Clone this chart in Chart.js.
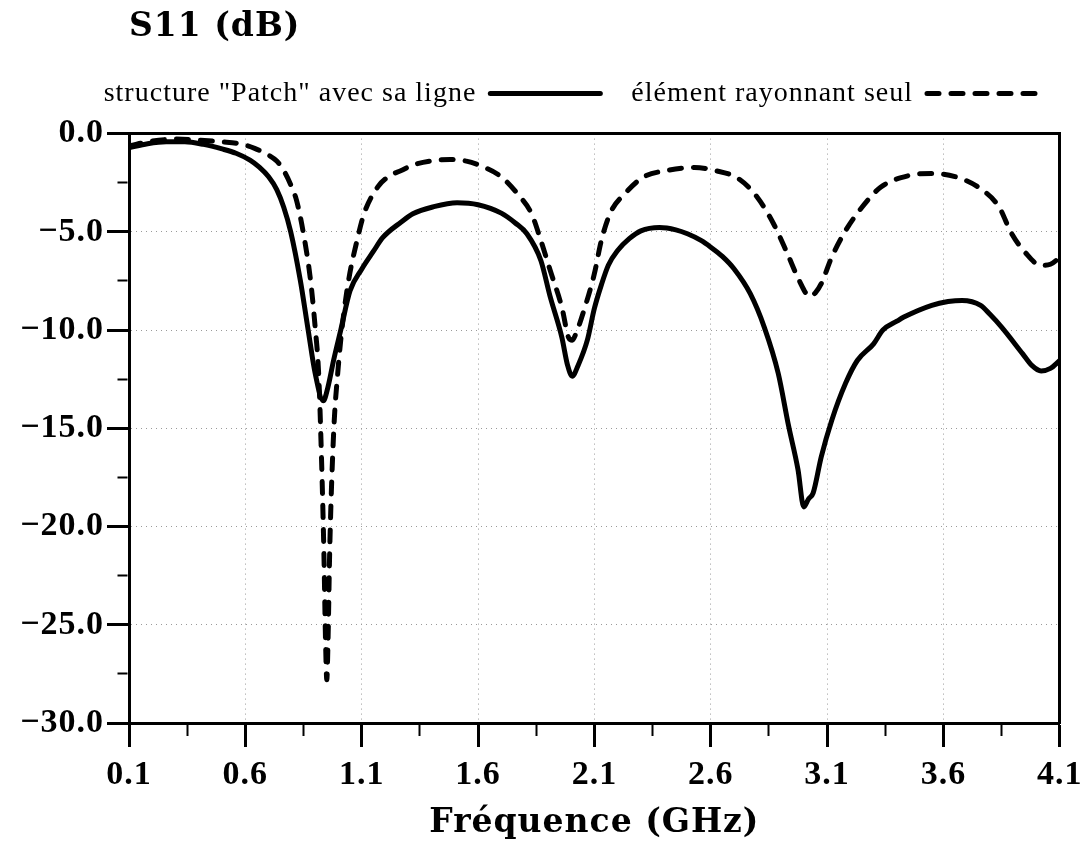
<!DOCTYPE html>
<html>
<head>
<meta charset="utf-8">
<title>S11 (dB)</title>
<script src="https://cdn.jsdelivr.net/npm/chart.js@4.4.1/dist/chart.umd.min.js"></script>
<style>
  body { margin: 0; background: #fff; }
  canvas { display: block; }
</style>
</head>
<body>
<canvas id="s11_chart" width="1084" height="843"></canvas>
<script>
// patch with its feed line
const patchFreq = [0.10, 0.18, 0.26, 0.34, 0.42, 0.50, 0.56, 0.62, 0.66, 0.70,
  0.735, 0.765, 0.795, 0.836, 0.87, 0.90, 0.935, 0.955, 0.98, 1.01, 1.05,
  1.10, 1.15, 1.19, 1.27, 1.32, 1.41, 1.51, 1.60, 1.70, 1.76,
  1.81, 1.87, 1.91, 1.96, 1.985, 2.005, 2.03, 2.07, 2.10, 2.13,
  2.16, 2.20, 2.25, 2.30, 2.38, 2.45, 2.50, 2.56, 2.60, 2.65,
  2.70, 2.77, 2.83, 2.89, 2.935, 2.975, 3.00, 3.02, 3.04, 3.075,
  3.12, 3.18, 3.23, 3.30, 3.34, 3.40, 3.43, 3.55, 3.62, 3.68,
  3.76, 3.80, 3.85, 3.94, 3.98, 4.02, 4.06, 4.10];
const patchDb = [-0.72, -0.52, -0.42, -0.42, -0.55, -0.78, -1.0, -1.35, -1.71, -2.2,
  -2.85, -3.75, -5.0, -7.45, -10.0, -12.2, -13.6, -12.9, -11.5, -10.0, -8.0,
  -6.9, -6.0, -5.3, -4.5, -4.08, -3.72, -3.52, -3.62, -4.05, -4.55,
  -5.1, -6.46, -8.3, -10.36, -11.8, -12.35, -11.8, -10.5, -8.9, -7.7,
  -6.7, -5.95, -5.35, -4.95, -4.78, -4.9, -5.1, -5.45, -5.78, -6.25,
  -6.88, -8.15, -9.85, -12.2, -14.9, -17.1, -19.0, -18.6, -18.3, -16.45,
  -14.6, -12.7, -11.55, -10.7, -10.0, -9.55, -9.34, -8.74, -8.55, -8.49,
  -8.74, -9.2, -9.85, -11.2, -11.8, -12.08, -11.95, -11.55];

// radiating element alone
const elemFreq = [0.10, 0.20, 0.30, 0.40, 0.50, 0.58, 0.64, 0.69, 0.735, 0.765,
  0.795, 0.82, 0.85, 0.88, 0.90, 0.915, 0.925, 0.937, 0.945, 0.950,
  0.955, 0.963, 0.98, 0.997, 1.016, 1.044, 1.08, 1.11, 1.17, 1.22,
  1.27, 1.32, 1.41, 1.48, 1.55, 1.61, 1.70, 1.77, 1.83, 1.87,
  1.91, 1.96, 1.99, 2.005, 2.02, 2.055, 2.10, 2.13, 2.17, 2.23,
  2.31, 2.41, 2.53, 2.62, 2.72, 2.80, 2.87, 2.93, 2.98, 3.025,
  3.05, 3.075, 3.12, 3.18, 3.25, 3.33, 3.45, 3.55, 3.65, 3.75,
  3.84, 3.89, 3.95, 4.02, 4.06, 4.10];
const elemDb = [-0.62, -0.38, -0.28, -0.33, -0.42, -0.53, -0.75, -1.03, -1.4, -1.88,
  -2.6, -3.4, -5.1, -7.45, -9.85, -12.2, -15.6, -21.0, -26.0, -27.8,
  -26.0, -21.0, -15.1, -12.2, -9.85, -7.45, -5.44, -4.08, -2.7, -2.15,
  -1.88, -1.6, -1.37, -1.32, -1.4, -1.63, -2.2, -3.07, -4.08, -5.44,
  -6.96, -8.83, -10.4, -10.52, -10.2, -9.0, -7.13, -5.44, -4.0, -3.07,
  -2.22, -1.88, -1.73, -1.88, -2.3, -3.24, -4.59, -6.12, -7.47, -8.28,
  -8.1, -7.64, -6.29, -4.93, -3.75, -2.73, -2.14, -2.03, -2.19, -2.73,
  -3.75, -5.02, -6.03, -6.71, -6.65, -6.3];

// axis ticks (labelled ones + the short ones in between)
const freqTicks = [0.1, 0.35, 0.6, 0.85, 1.1, 1.35, 1.6, 1.85, 2.1, 2.35, 2.6, 2.85, 3.1, 3.35, 3.6, 3.85, 4.1];
const freqMajor = [0.1, 0.6, 1.1, 1.6, 2.1, 2.6, 3.1, 3.6, 4.1];
const dbTicks = [0, -2.5, -5, -7.5, -10, -12.5, -15, -17.5, -20, -22.5, -25, -27.5, -30];
const dbMajor = [0, -5, -10, -15, -20, -25, -30];

const isMajor = (list, v) => list.some(m => Math.abs(m - v) < 1e-6);
const dbLabel = v => (v < 0 ? '\u2212' : '') + Math.abs(v).toFixed(1);

Chart.defaults.font.family = "'Liberation Serif', 'Times New Roman', serif";
Chart.defaults.color = '#000';

const ctx = document.getElementById('s11_chart');

const data = {
    datasets: [
    {
        label: 'structure "Patch" avec sa ligne',
        data: patchFreq.map((f, i) => ({x: f, y: patchDb[i]})),
        borderColor: '#000',
        backgroundColor: '#000',
        borderWidth: 5,
        borderCapStyle: 'round',
        borderJoinStyle: 'round',
        pointRadius: 0,
        cubicInterpolationMode: 'monotone'
    },
    {
        label: 'élément rayonnant seul',
        data: elemFreq.map((f, i) => ({x: f, y: elemDb[i]})),
        borderColor: '#000',
        backgroundColor: '#000',
        borderWidth: 5,
        borderDash: [12, 12],
        borderCapStyle: 'round',
        borderJoinStyle: 'round',
        pointRadius: 0,
        cubicInterpolationMode: 'monotone'
    }]
};

const gridColor = list => c => (c.tick && isMajor(list, c.tick.value)) ? '#9a9a9a' : 'rgba(0,0,0,0)';
const tickWidth = list => c => (c.tick && isMajor(list, c.tick.value)) ? 3 : 2;

// legend samples keep the dash of their line
const defaultLabels = Chart.defaults.plugins.legend.labels.generateLabels;
const legendLabels = chart => defaultLabels(chart).map(item => {
    const ds = chart.data.datasets[item.datasetIndex];
    item.lineDash = ds.borderDash || [];
    item.lineCap = 'round';
    item.lineWidth = ds.borderWidth;
    return item;
});

// the serif labels are set a little wider
const spacing = {
    id: 'spacing',
    afterInit(chart) { chart.ctx.letterSpacing = '1px'; }
};

const config = {
    type: 'line',
    data: data,
    plugins: [spacing],
    options: {
        responsive: false,
        animation: false,
        events: [],
        layout: { padding: { right: 16 } },
        plugins: {
            title: {
                display: true,
                text: 'S11 (dB)',
                align: 'start',
                fullSize: false,
                font: { family: "'DejaVu Serif', serif", size: 33, weight: 'bold' },
                padding: { top: 8, bottom: 1 }
            },
            legend: {
                rtl: true,
                reverse: true,
                align: 'start',
                labels: {
                    usePointStyle: true,
                    pointStyle: 'line',
                    pointStyleWidth: 110,
                    padding: 31,
                    font: { size: 28 },
                    generateLabels: legendLabels
                }
            },
            tooltip: { enabled: false }
        },
        scales: {
            x: {
                type: 'linear',
                position: 'bottom',
                min: 0.1,
                max: 4.1,
                afterBuildTicks: s => { s.ticks = freqTicks.map(v => ({value: v})); },
                ticks: {
                    autoSkip: false,
                    maxRotation: 0,
                    padding: 1.5,
                    font: { size: 34, weight: 'bold', lineHeight: '54px' },
                    callback: v => isMajor(freqMajor, v) ? v.toFixed(1) : ''
                },
                grid: {
                    color: gridColor(freqMajor),
                    lineWidth: 1,
                    tickLength: 24,
                    tickWidth: tickWidth(freqMajor),
                    tickColor: '#000',
                    tickBorderDash: c => (c.tick && isMajor(freqMajor, c.tick.value)) ? [] : [11, 40]
                },
                border: { color: '#000', width: 3, dash: [1, 4] },
                title: {
                    display: true,
                    text: 'Fréquence (GHz)',
                    font: { family: "'DejaVu Serif', serif", size: 33, weight: 'bold', lineHeight: 1 },
                    padding: { top: 3, bottom: 3 }
                }
            },
            y: {
                type: 'linear',
                position: 'left',
                min: -30,
                max: 0,
                afterBuildTicks: s => { s.ticks = dbTicks.map(v => ({value: v})); },
                afterFit: s => { s.width = 129; },
                ticks: {
                    padding: 3,
                    font: { size: 34, weight: 'bold' },
                    callback: v => isMajor(dbMajor, v) ? dbLabel(v) : ''
                },
                grid: {
                    color: gridColor(dbMajor),
                    lineWidth: 1,
                    tickLength: 22,
                    tickWidth: tickWidth(dbMajor),
                    tickColor: '#000',
                    tickBorderDash: c => (c.tick && isMajor(dbMajor, c.tick.value)) ? [] : [0, 10.5, 10, 40]
                },
                border: { color: '#000', width: 3, dash: [1, 4] }
            },
            xTop: {
                type: 'linear',
                position: 'top',
                min: 0.1,
                max: 4.1,
                ticks: { display: false },
                grid: { drawOnChartArea: false, tickLength: 16, tickColor: 'rgba(0,0,0,0)' },
                border: { color: '#000', width: 3 }
            },
            yRight: {
                type: 'linear',
                position: 'right',
                min: -30,
                max: 0,
                ticks: { display: false },
                grid: { drawOnChartArea: false, drawTicks: false },
                border: { color: '#000', width: 3 }
            }
        }
    }
};

new Chart(ctx, config);
</script>
</body>
</html>
